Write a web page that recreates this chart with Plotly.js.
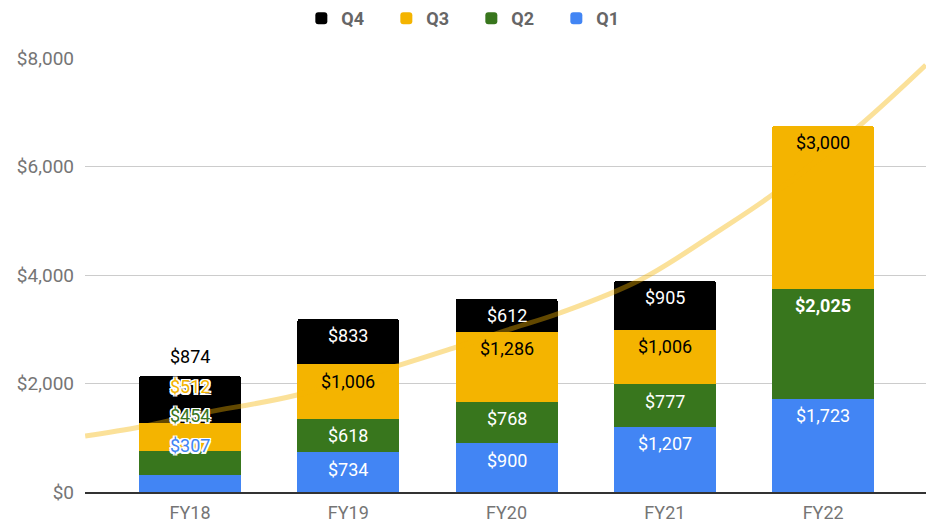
<!DOCTYPE html>
<html>
<head>
<meta charset="utf-8">
<script src="https://cdn.plot.ly/plotly-3.0.1.min.js"></script>
<style>
  html, body { margin: 0; padding: 0; background: #fff; }
  #chart { width: 926px; height: 523px; }
</style>
</head>
<body>
<div id="chart"></div>
<script>
// Fiscal years and quarterly values
const years = ['FY18', 'FY19', 'FY20', 'FY21', 'FY22'];
const q1 = [307, 734, 900, 1207, 1723];
const q2 = [454, 618, 768, 777, 2025];
const q3 = [512, 1006, 1286, 1006, 3000];
const q4 = [874, 833, 612, 905, null];

// trendline (x in year index units)
const trendX = [-0.663, -0.316, 0.082, 0.676, 1.687, 2.003, 2.337, 2.843, 3.348, 3.677, 4.213, 4.649];
const trendY = [1032, 1198, 1456, 1788, 2673, 2986, 3300, 3908, 4829, 5475, 6710, 7871];

const yTicks = [0, 2000, 4000, 6000, 8000];

const fmt = v => v == null ? '' : '$' + v.toLocaleString('en-US');
const xIdx = years.map((_, i) => i);

const series = [
    { name: 'Q1', vals: q1, color: '#4285F4', text: '#ffffff' },
    { name: 'Q2', vals: q2, color: '#38761D', text: '#ffffff', bold: 4 },
    { name: 'Q3', vals: q3, color: '#F4B400', text: '#000000' },
    { name: 'Q4', vals: q4, color: '#000000', text: '#ffffff' }
];

const traces = series.map(s => ({
    type: 'bar',
    name: s.name,
    x: xIdx,
    y: s.vals,
    marker: { color: s.color },
    hoverinfo: 'skip'
}));

traces.push({
    type: 'scatter',
    mode: 'lines',
    x: trendX,
    y: trendY,
    line: { color: '#F4B400', width: 5, shape: 'spline' },
    opacity: 0.4,
    showlegend: false,
    hoverinfo: 'skip'
});

// value labels at the top of each segment
const annotations = [];
const base = xIdx.map(() => 0);
series.forEach(s => {
    s.vals.forEach((v, i) => {
        if (v == null) return;
        base[i] += v;
        if (i === 0) return;   // FY18 is labelled separately below
        const t = fmt(v);
        annotations.push({
            x: i, y: base[i], xref: 'x', yref: 'y',
            text: i === s.bold ? '<b>' + t + '</b>' : t,
            showarrow: false,
            yanchor: 'middle',
            yshift: -17,
            font: { family: 'Roboto', size: 18, color: s.text }
        });
    });
});

// FY18 labels do not fit, so they are stacked down from the top of the bar
const total18 = base[0];
const outline = '1.5px 1.5px 0 #fff, -1.5px -1.5px 0 #fff, 1.5px -1.5px 0 #fff, -1.5px 1.5px 0 #fff, 0 1.5px 0 #fff, 0 -1.5px 0 #fff, 1.5px 0 0 #fff, -1.5px 0 0 #fff';
series.slice().reverse().forEach((s, k) => {
    annotations.push({
        x: 0, y: total18, xref: 'x', yref: 'y',
        text: fmt(s.vals[0]),
        showarrow: false,
        yanchor: 'middle',
        yshift: 19 - k * 29.5,
        font: { family: 'Roboto', size: 18, color: s.color, shadow: k === 0 ? 'none' : outline }
    });
});

const layout = {
    width: 926,
    height: 523,
    margin: { l: 85, r: 0, t: 58, b: 31 },
    paper_bgcolor: '#ffffff',
    plot_bgcolor: '#ffffff',
    font: { family: 'Roboto', color: '#757575' },
    barmode: 'stack',
    bargap: 0.355,
    barcornerradius: 3,
    showlegend: true,
    legend: {
        orientation: 'h',
        traceorder: 'reversed',
        xref: 'container',
        yref: 'container',
        x: 0.509,
        xanchor: 'center',
        y: 1.0,
        yanchor: 'top',
        font: { family: 'Roboto', size: 18, color: '#666666', weight: 'bold' },
        entrywidth: 40,
        itemclick: false
    },
    xaxis: {
        range: [-0.664, 4.65],
        tickvals: xIdx,
        ticktext: years,
        showgrid: false,
        zeroline: false,
        showline: true,
        linecolor: '#333333',
        linewidth: 1.5,
        ticks: '',
        ticklabelstandoff: 4,
        tickfont: { family: 'Roboto', size: 18, color: '#757575' },
        fixedrange: true
    },
    yaxis: {
        range: [0, 8000],
        tickvals: yTicks,
        ticktext: yTicks.map(fmt),
        showgrid: true,
        gridcolor: '#cccccc',
        gridwidth: 1,
        zeroline: false,
        ticks: '',
        ticklabelstandoff: 10,
        tickfont: { family: 'Roboto', size: 19, color: '#757575' },
        fixedrange: true
    },
    annotations: annotations
};

Plotly.newPlot('chart', traces, layout, { displayModeBar: false, staticPlot: true });
</script>
</body>
</html>
